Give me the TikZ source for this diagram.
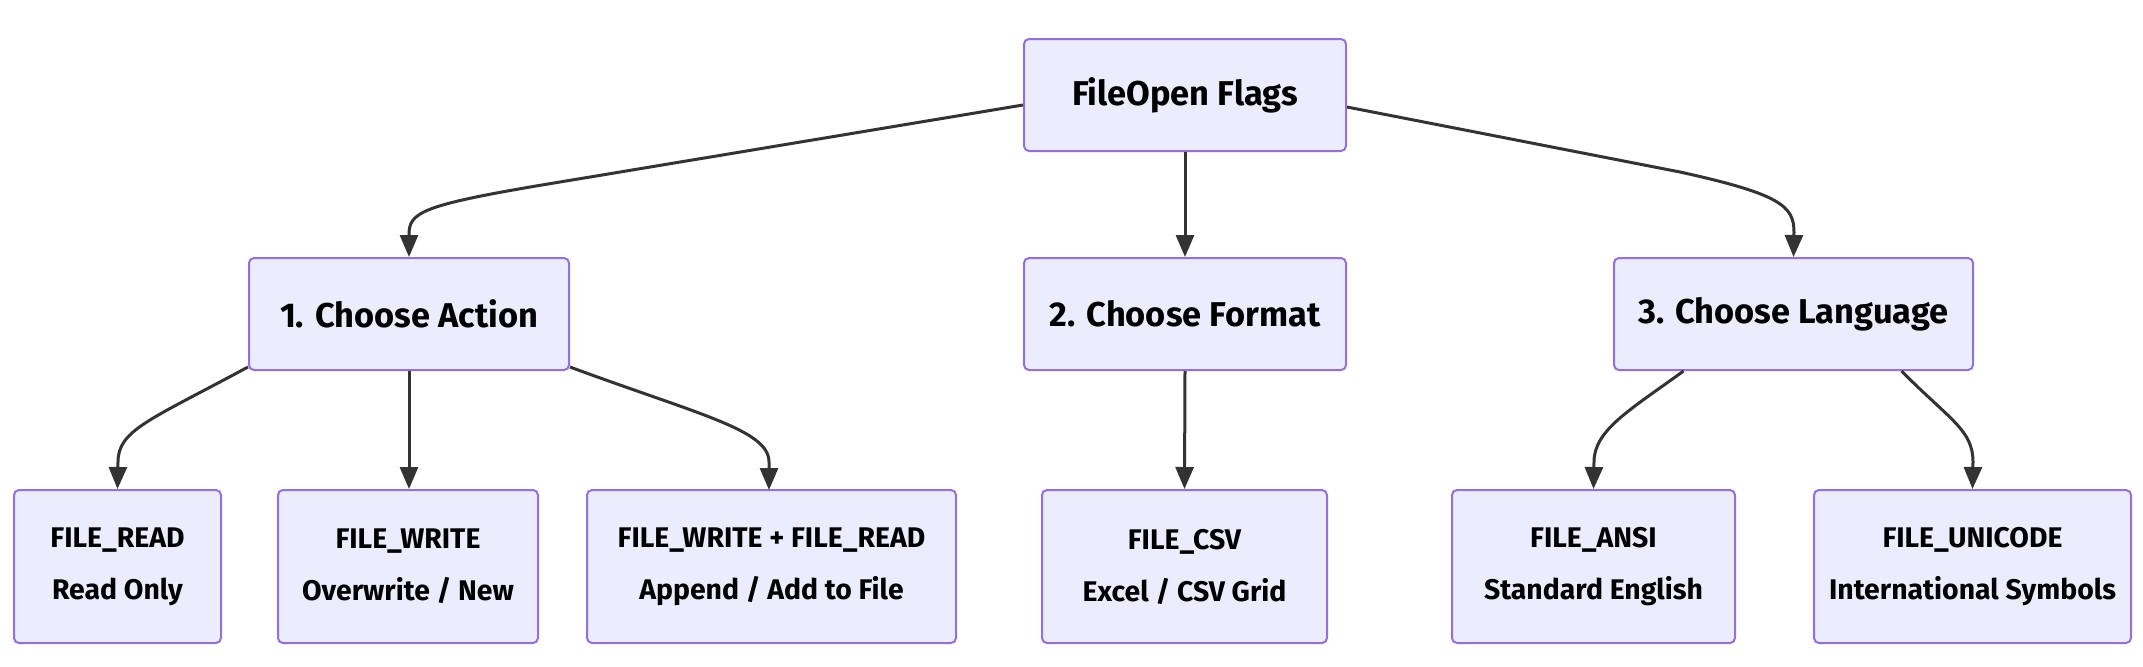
\documentclass[tikz,border=0pt]{standalone}
\usepackage{fontspec}
\setmainfont{Fira Sans}
\usetikzlibrary{arrows.meta}
\definecolor{boxfill}{HTML}{ECECFF}
\definecolor{boxline}{HTML}{9370DB}
\definecolor{edgecol}{HTML}{333333}
\tikzset{
  box/.style={draw=boxline, fill=boxfill, line width=1pt, rounded corners=2.5pt,
    inner sep=0pt, align=center, text=black},
  topbox/.style={box, minimum height=56pt, font=\fontsize{17.2}{26}\selectfont\bfseries},
  leafbox/.style={box, minimum height=76.5pt, font=\fontsize{14.2}{26}\selectfont\bfseries},
  edge/.style={draw=edgecol, line width=1.5pt, -{Triangle[length=11pt,width=9pt]}}
}
\begin{document}
\begin{tikzpicture}[x=0.5pt,y=-0.5pt]
\fill[white] (0,0) rectangle (2143,666);
\useasboundingbox (0,0) rectangle (2143,666);
% level 0
\node[topbox, minimum width=161pt] (top) at (1185,95) {FileOpen Flags};
% level 1
\node[topbox, minimum width=160pt] (act) at (409,314) {1. Choose Action};
\node[topbox, minimum width=161pt] (fmt) at (1185,314) {2. Choose Format};
\node[topbox, minimum width=179.5pt] (lang) at (1793.5,314) {3. Choose Language};
% level 2
\node[leafbox, minimum width=103.5pt] (read) at (117.5,566.5) {FILE\_READ\\Read Only};
\node[leafbox, minimum width=130pt] (write) at (408,566.5) {FILE\_WRITE\\Overwrite / New};
\node[leafbox, minimum width=184.5pt] (wr) at (771.5,566.5) {FILE\_WRITE + FILE\_READ\\Append / Add to File};
\node[leafbox, minimum width=142.5pt] (csv) at (1184.5,566.5) {FILE\_CSV\\Excel / CSV Grid};
\node[leafbox, minimum width=141.5pt] (ansi) at (1593.5,566.5) {FILE\_ANSI\\Standard English};
\node[leafbox, minimum width=158.5pt] (uni) at (1972.5,566.5) {FILE\_UNICODE\\International Symbols};
% edges
\draw[edge] ([yshift=-5pt]top.west) -- (560,182) .. controls (420,205) and (409,212) .. (409,235) -- (act.north);
\draw[edge] (top.south) -- (fmt.north);
\draw[edge] ([yshift=-6pt]top.east) -- (1680,172) .. controls (1780,194) and (1794,206) .. (1794,232) -- (lang.north);
\draw[edge] ([yshift=2pt]act.south west) .. controls (150,420) and (118,430) .. (118,462) -- (read.north);
\draw[edge] (act.south) -- (write.north -| act.south);
\draw[edge] ([yshift=2pt]act.south east) .. controls (700,415) and (769,430) .. (769,462) -- (769,490);
\draw[edge] (fmt.south) -- (csv.north);
\draw[edge] ([xshift=-55pt]lang.south) .. controls (1630,410) and (1594,430) .. (1594,462) -- (ansi.north);
\draw[edge] ([xshift=54pt]lang.south) .. controls (1950,420) and (1973,430) .. (1973,462) -- (uni.north);
\end{tikzpicture}
\end{document}
